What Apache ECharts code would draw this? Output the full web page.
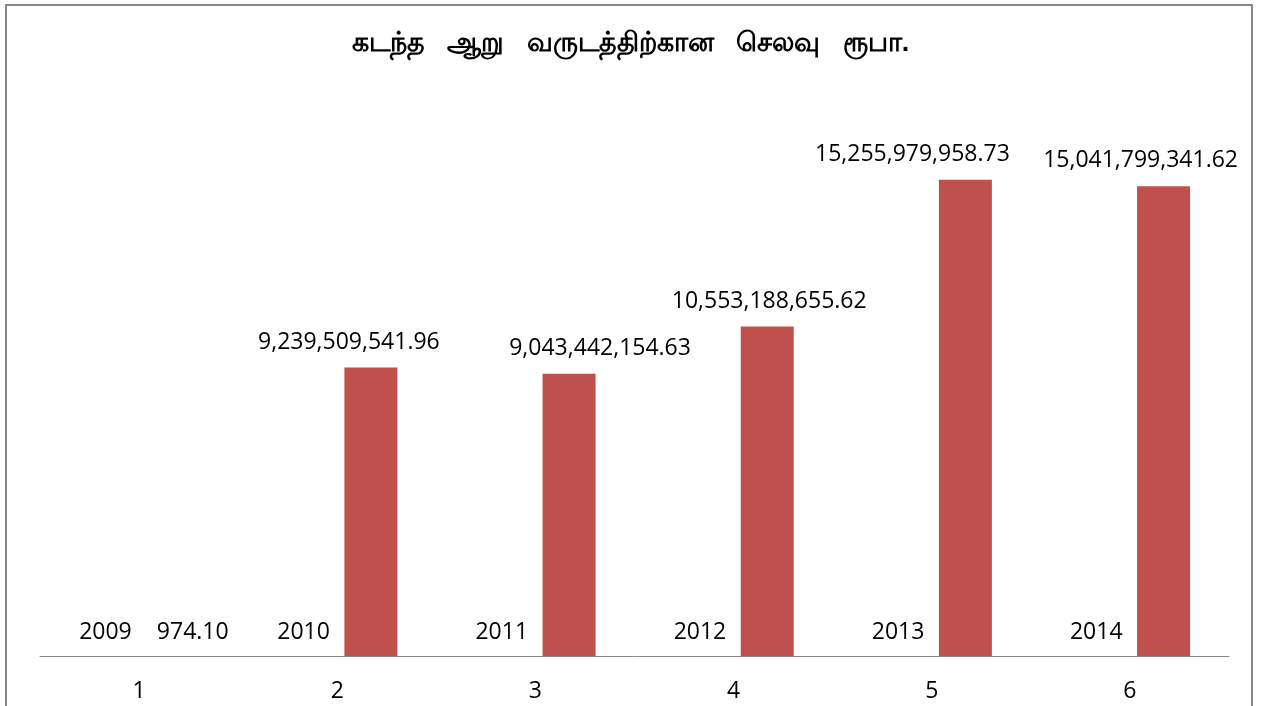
<!DOCTYPE html>
<html>
<head>
<meta charset="utf-8">
<script src="https://cdn.jsdelivr.net/npm/echarts@6/dist/echarts.min.js"></script>
<style>
  html, body { margin: 0; padding: 0; background: #fff; }
  #main { width: 1261px; height: 706px; }
</style>
</head>
<body>
<div id="main"></div>
<script>
const categories = ["1", "2", "3", "4", "5", "6"];
const years = [2009, 2010, 2011, 2012, 2013, 2014];
const expenses = [974.10, 9239509541.96, 9043442154.63, 10553188655.62, 15255979958.73, 15041799341.62];
// label nudges, as the labels sit in the original
const labelShift = [[20, 0], [-22, 0], [31, 0], [2, 0], [-53, 0], [-23, 0]];

const fmt = (v) =>
  v.toLocaleString("en-US", { minimumFractionDigits: 2, maximumFractionDigits: 2 });

const myChart = echarts.init(document.getElementById("main"));
myChart.setOption({
  animation: false,
  title: {
    text: "கடந்த   ஆறு   வருடத்திற்கான   செலவு   ரூபா.",
    left: "center",
    top: 25,
    textStyle: { fontSize: 27, fontWeight: "bold", color: "#000", fontFamily: "sans-serif" },
  },
  graphic: [
    {
      type: "rect",
      shape: { x: 6, y: 5, width: 1246, height: 720 },
      style: { fill: null, stroke: "#868686", lineWidth: 2 },
      silent: true,
    },
  ],
  grid: { left: 40, right: 32, top: 94, bottom: 50 },
  xAxis: {
    type: "category",
    data: categories,
    axisLine: { lineStyle: { color: "#868686", width: 1 } },
    axisTick: { show: false },
    axisLabel: { color: "#000", fontSize: 23, fontFamily: "Open Sans", margin: 24 },
  },
  yAxis: {
    type: "value",
    min: 0,
    max: 18000000000,
    show: false,
    splitLine: { show: false },
  },
  series: [
    {
      name: "year",
      type: "bar",
      data: years,
      barWidth: 53,
      barGap: "27%",
      itemStyle: { color: "#4F81BD" },
      label: {
        show: true,
        position: "top",
        distance: 12,
        color: "#000",
        fontSize: 23,
        fontFamily: "Open Sans",
      },
    },
    {
      name: "expense",
      type: "bar",
      data: expenses.map((v, i) => ({
        value: v,
        label: { offset: labelShift[i], distance: i === 0 ? 12 : 14 },
      })),
      barWidth: 53,
      itemStyle: { color: "#C0504D" },
      label: {
        show: true,
        position: "top",
        color: "#000",
        fontSize: 23,
        fontFamily: "Open Sans",
        formatter: (p) => fmt(p.value),
      },
    },
  ],
});
</script>
</body>
</html>
